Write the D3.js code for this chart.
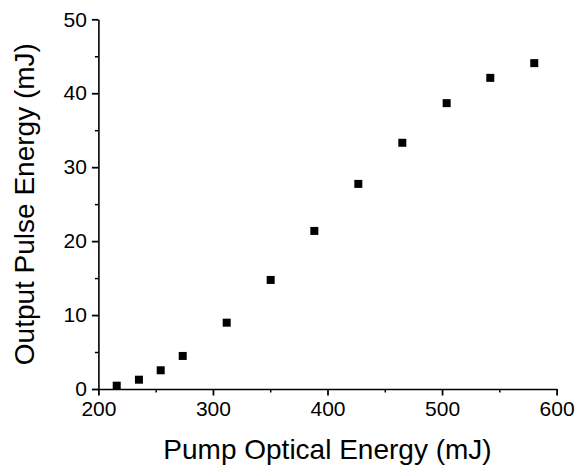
<!DOCTYPE html>
<html>
<head>
<meta charset="utf-8">
<script src="https://cdn.jsdelivr.net/npm/d3@7"></script>
<style>
body { margin: 0; background: #fff; }
text { font-family: "Liberation Sans", Arial, sans-serif; fill: #000; }
</style>
</head>
<body>
<svg></svg>
<script>
// pump energy (mJ) vs output pulse energy (mJ)
const pump = [216, 235.4, 254.4, 273.6, 312, 350.4, 388.5, 426.9, 465.3, 504, 542.1, 580.5];
const output = [0.45, 1.26, 2.53, 4.47, 8.97, 14.75, 21.38, 27.74, 33.3, 38.66, 42.08, 44.07];
const xTicks = [200, 300, 400, 500, 600];
const xMinor = [250, 350, 450, 550];
const yTicks = [0, 10, 20, 30, 40, 50];
const yMinor = [5, 15, 25, 35, 45];

const marginLeft = 98.4, marginTop = 19.3;
const width = 458.2, height = 369.7;

const svg = d3.select("svg")
  .attr("width", 575)
  .attr("height", 471);

const x = d3.scaleLinear().domain([200, 600]).range([0, width]);
const y = d3.scaleLinear().domain([0, 50]).range([height, 0]);

const chart = svg.append("g")
  .attr("transform", "translate(" + marginLeft + "," + marginTop + ")");

// minor ticks first, then major axes on top
chart.append("g")
  .attr("transform", "translate(0," + height + ")")
  .call(d3.axisBottom(x).tickValues(xMinor).tickSize(3.5).tickFormat(""))
  .call(g => g.select(".domain").remove())
  .selectAll("line").attr("stroke-width", 1.5);

chart.append("g")
  .call(d3.axisLeft(y).tickValues(yMinor).tickSize(3.5).tickFormat(""))
  .call(g => g.select(".domain").remove())
  .selectAll("line").attr("stroke-width", 1.5);

const xAxis = chart.append("g")
  .attr("transform", "translate(0," + height + ")")
  .call(d3.axisBottom(x).tickValues(xTicks).tickSize(6.5).tickSizeOuter(0).tickPadding(6));
xAxis.select(".domain").attr("stroke-width", 1.6);
xAxis.selectAll(".tick line").attr("stroke-width", 1.8);
xAxis.selectAll("text").attr("font-size", 21).attr("font-family", null);

const yAxis = chart.append("g")
  .call(d3.axisLeft(y).tickValues(yTicks).tickSize(6.5).tickSizeOuter(0).tickPadding(5));
yAxis.select(".domain").attr("stroke-width", 1.6);
yAxis.selectAll(".tick line").attr("stroke-width", 1.8);
yAxis.selectAll("text").attr("font-size", 21).attr("font-family", null);

const s = 8;
chart.selectAll("rect.pt")
  .data(pump)
  .enter()
  .append("rect")
  .attr("class", "pt")
  .attr("x", d => x(d) - s / 2)
  .attr("y", (d, i) => y(output[i]) - s / 2)
  .attr("width", s)
  .attr("height", s)
  .attr("fill", "#000");

svg.append("text")
  .attr("x", marginLeft + width / 2)
  .attr("y", 459)
  .attr("text-anchor", "middle")
  .attr("font-size", 28)
  .text("Pump Optical Energy (mJ)");

svg.append("text")
  .attr("transform", "translate(34," + (marginTop + height / 2) + ") rotate(-90)")
  .attr("text-anchor", "middle")
  .attr("font-size", 28)
  .text("Output Pulse Energy (mJ)");
</script>
</body>
</html>
